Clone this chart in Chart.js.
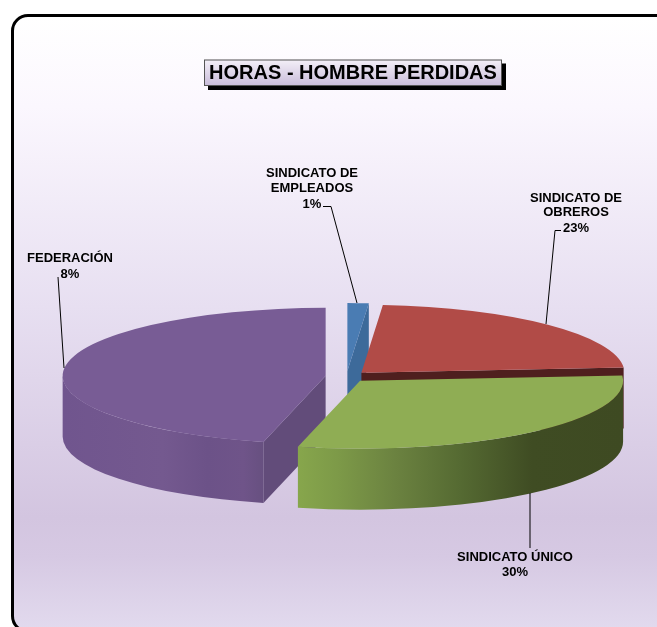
<!DOCTYPE html>
<html>
<head>
<meta charset="utf-8">
<script src="https://cdn.jsdelivr.net/npm/chart.js@4"></script>
<style>
html,body{margin:0;padding:0;background:#fff;overflow:hidden;width:657px;height:627px}
#frame{position:absolute;left:11px;top:14px;width:700px;height:613px;border:3px solid #000;border-radius:17px;
background:linear-gradient(to bottom,#ffffff 0px,#fbf7fe 90px,#e7dff1 290px,#d3c5e0 500px,#d6c9e3 540px,#e2daee 613px)}
canvas{position:absolute;left:0;top:0}
</style>
</head>
<body>
<div id="frame"></div>
<canvas id="c" width="657" height="627"></canvas>
<script>
// Data
const chartTitle = 'HORAS - HOMBRE PERDIDAS';
const categories = ['SINDICATO DE EMPLEADOS', 'SINDICATO DE OBREROS', 'SINDICATO ÚNICO', 'FEDERACIÓN'];
const sliceShares = [1.3, 22.5, 30, 46.2];              // drawn size of each slice
const printedPercents = ['1%', '23%', '30%', '8%'];     // percentages as printed

// Styles
const topColors = ['#4a7cb3', '#b14b47', '#8fad54', '#785c95'];
const cutColors = ['#3d6a9a', '#4f1f1e', '#3f4b22', '#624c7a'];
const rimStops = [
  [[0, '#3d6a9a'], [1, '#3d6a9a']],
  [[0, '#4f1f1e'], [1, '#4f1f1e']],
  [[0, '#87a64c'], [0.12, '#7d9a48'], [0.3, '#6b8240'], [0.5, '#556a32'], [0.72, '#3f4c23'], [1, '#3e4a22']],
  [[0, '#70558e'], [0.5, '#74598f'], [0.72, '#6c5288'], [0.9, '#6f5489'], [1, '#675080']]
];
const drawOrder = [0, 1, 3, 2];
const PIE = {x: 346.5, y: 376.5, radius: 263, squash: 68 / 263, depth: 61, explode: 21};
const titleBox = {x: 204, y: 59.5, w: 298, h: 26.5, shadow: 4};
const labelFont = 'bold 13px "Liberation Sans", Arial, sans-serif';
const labelLayout = [
  {cx: 312, ys: [173, 188, 204], lines: ['SINDICATO DE', 'EMPLEADOS'], leader: [[323, 206.5], [331, 206.5], [357, 303]]},
  {cx: 576, ys: [198, 212, 228], lines: ['SINDICATO DE', 'OBREROS'], leader: [[561, 230.5], [555, 230.5], [546, 324]]},
  {cx: 515, ys: [557, 572], lines: ['SINDICATO ÚNICO'], leader: [[530, 493], [530, 548]]},
  {cx: 70, ys: [258, 274], lines: ['FEDERACIÓN'], leader: [[58, 277], [64, 368]]}
];

const pie3d = {
  id: 'pie3d',
  beforeDraw(chart) {
    const c = chart.ctx, b = titleBox;
    c.save();
    c.fillStyle = '#000';
    c.fillRect(b.x + b.shadow, b.y + b.shadow, b.w, b.h);
    const g = c.createLinearGradient(0, b.y, 0, b.y + b.h);
    g.addColorStop(0, '#f4f0f8');
    g.addColorStop(1, '#c8bbd9');
    c.fillStyle = g;
    c.fillRect(b.x, b.y, b.w, b.h);
    c.strokeStyle = '#555';
    c.lineWidth = 1;
    c.strokeRect(b.x + .5, b.y + .5, b.w - 1, b.h - 1);
    c.restore();
  },
  beforeDatasetsDraw(chart) {
    const c = chart.ctx, meta = chart.getDatasetMeta(0);
    const {radius: R, squash: k, depth: D, explode: E} = PIE;
    drawOrder.forEach(i => {
      const el = meta.data[i];
      const a0 = el.startAngle, a1 = el.endAngle, h = (a0 + a1) / 2;
      const tx = PIE.x + Math.cos(h) * E, ty = PIE.y + Math.sin(h) * E * k;
      const pt = a => [tx + Math.cos(a) * R, ty + Math.sin(a) * R * k];
      const cut = a => {
        const p = pt(a);
        c.beginPath();
        c.moveTo(tx, ty);
        c.lineTo(p[0], p[1]);
        c.lineTo(p[0], p[1] + D);
        c.lineTo(tx, ty + D);
        c.closePath();
        c.fillStyle = cutColors[i];
        c.fill();
      };
      // outer wall, only its front half can be seen
      const from = Math.max(a0, 0), to = Math.min(a1, Math.PI);
      if (to > from) {
        const xs = [pt(from)[0], pt(to)[0]];
        const left = Math.min(...xs), right = Math.max(...xs);
        const g = c.createLinearGradient(left, 0, right, 0);
        rimStops[i].forEach(s => g.addColorStop(s[0], s[1]));
        c.beginPath();
        c.ellipse(tx, ty + D, R, R * k, 0, from, to);
        c.ellipse(tx, ty, R, R * k, 0, to, from, true);
        c.closePath();
        c.fillStyle = g;
        c.fill();
      }
      // cut faces turned to the viewer
      if (-Math.cos(a0) > 1e-6) cut(a0);
      if (Math.cos(a1) > 1e-6) cut(a1);
      // top face: the library's arc, squashed into perspective
      c.save();
      c.translate(tx, ty);
      c.scale(1, k);
      c.translate(-el.x, -el.y);
      el.draw(c);
      c.restore();
    });
    // leaders and labels
    c.save();
    c.strokeStyle = '#000';
    c.lineWidth = 1;
    c.fillStyle = '#000';
    c.font = labelFont;
    c.textAlign = 'center';
    c.textBaseline = 'middle';
    labelLayout.forEach((l, i) => {
      c.beginPath();
      l.leader.forEach((p, j) => j ? c.lineTo(p[0], p[1]) : c.moveTo(p[0], p[1]));
      c.stroke();
      const texts = [...l.lines, printedPercents[i]];
      texts.forEach((t, j) => c.fillText(t, l.cx, l.ys[j]));
    });
    c.restore();
    return false;
  }
};

new Chart(document.getElementById('c'), {
  type: 'pie',
  data: {
    labels: categories,
    datasets: [{data: sliceShares, backgroundColor: topColors, borderWidth: 0}]
  },
  options: {
    responsive: false,
    animation: false,
    radius: PIE.radius,
    layout: {padding: {left: 49, right: 0, top: 0, bottom: 0}},
    plugins: {
      legend: {display: false},
      tooltip: {enabled: false},
      title: {
        display: true,
        text: chartTitle,
        color: '#000',
        font: {family: '"Liberation Sans", Arial, sans-serif', size: 20, weight: 'bold'},
        padding: {top: 61, bottom: 4}
      }
    }
  },
  plugins: [pie3d]
});
</script>
</body>
</html>
